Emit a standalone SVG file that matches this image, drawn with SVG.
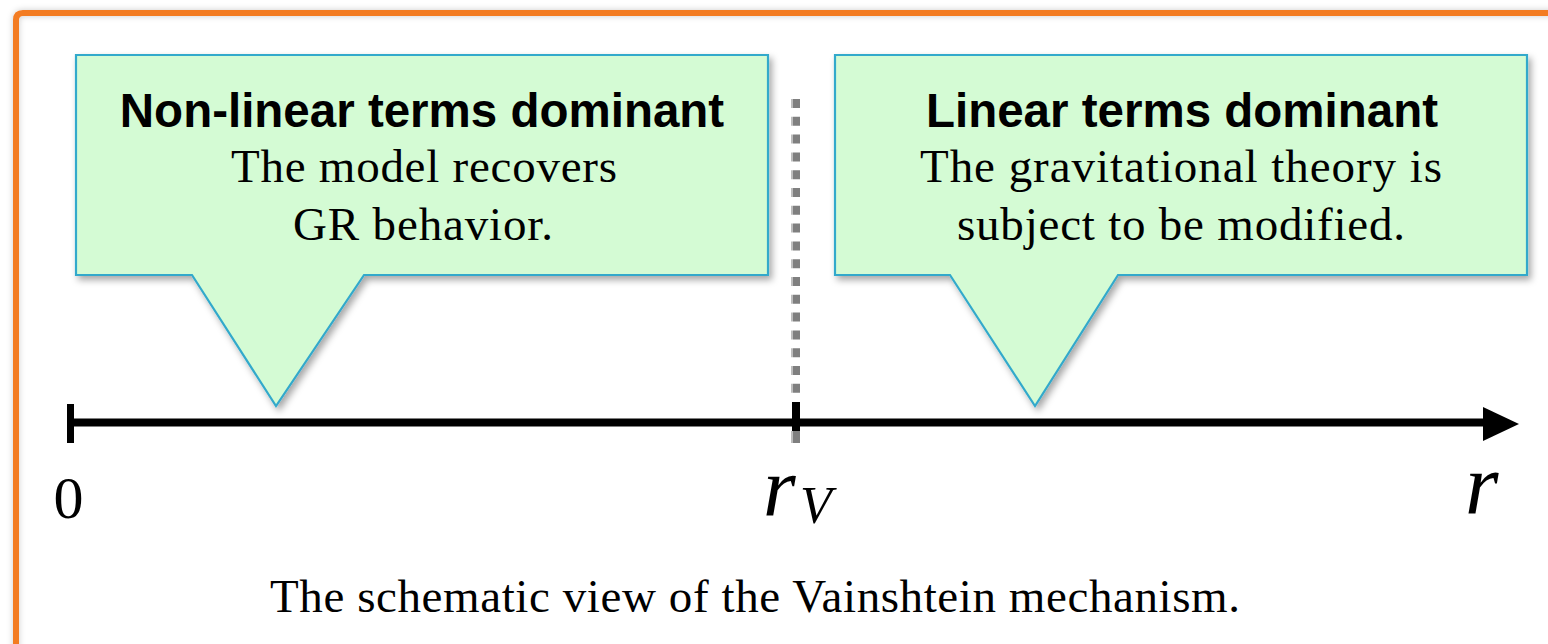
<svg xmlns="http://www.w3.org/2000/svg" width="1548" height="644" viewBox="0 0 1548 644">
  <defs>
    <filter id="shadow" x="-10%" y="-10%" width="130%" height="130%">
      <feDropShadow dx="3" dy="4" stdDeviation="3.5" flood-color="#000" flood-opacity="0.35"/>
    </filter>
    <filter id="softshadow" x="-50%" y="-5%" width="200%" height="110%">
      <feDropShadow dx="0" dy="0" stdDeviation="3" flood-color="#000" flood-opacity="0.2"/>
    </filter>
  </defs>
  <style>
    .callout { fill: #D4FBD4; stroke: #33A9CB; stroke-width: 2.2; filter: url(#shadow); }
    .title { font-family: "Liberation Sans", Arial, sans-serif; font-weight: bold; font-size: 47.5px; fill: #000; text-anchor: middle; }
    .desc { font-family: "Liberation Serif", "Times New Roman", serif; font-size: 47px; fill: #000; text-anchor: middle; }
    .math { font-family: "Liberation Serif", "Times New Roman", serif; fill: #000; }
  </style>
  <rect x="0" y="0" width="1548" height="644" fill="#ffffff"/>
  <g id="frame">
    <path d="M16,650 V20 Q16,13 23,13 H1560" fill="none" stroke="#F37B20" stroke-width="6" filter="url(#softshadow)"/>
  </g>
  <g id="callout-nonlinear">
    <path class="callout" d="M76,55 H768 V275 H364 L276,406 L192,275 H76 Z"/>
    <text class="title" x="422" y="127">Non-linear terms dominant</text>
    <text class="desc" x="424" y="182" textLength="386" lengthAdjust="spacing">The model recovers</text>
    <text class="desc" x="423" y="240" textLength="260" lengthAdjust="spacing">GR behavior.</text>
  </g>
  <g id="callout-linear">
    <path class="callout" d="M835,55 H1527 V275 H1118 L1035,406 L950,275 H835 Z"/>
    <text class="title" x="1182" y="127">Linear terms dominant</text>
    <text class="desc" x="1181" y="182" textLength="522" lengthAdjust="spacing">The gravitational theory is</text>
    <text class="desc" x="1181" y="240" textLength="448" lengthAdjust="spacing">subject to be modified.</text>
  </g>
  <g id="connectors">
    <g id="vainshtein-line">
      <line x1="792" y1="99" x2="792" y2="400" stroke="#BDBDBD" stroke-width="2" stroke-dasharray="9 8.8"/>
      <line x1="796.5" y1="99" x2="796.5" y2="400" stroke="#7F7F7F" stroke-width="7" stroke-dasharray="9 8.8"/>
    </g>
    <g id="axis">
      <line x1="74" y1="422.5" x2="1486" y2="422.5" stroke="#000" stroke-width="8"/>
      <polygon points="1483,407 1519,424 1483,441" fill="#000"/>
      <rect x="67" y="404" width="7" height="39" fill="#000"/>
      <rect x="792" y="402" width="8" height="29" fill="#000"/>
      <rect x="791" y="431" width="2" height="12" fill="#BDBDBD"/>
      <rect x="793" y="431" width="7" height="12" fill="#7F7F7F"/>
    </g>
  </g>
  <g id="labels">
    <text class="math" x="68.5" y="518" font-size="60" text-anchor="middle">0</text>
    <text class="math" x="763" y="516" font-size="84" font-style="italic">r</text>
    <text class="math" x="800" y="523" font-size="52" font-style="italic">V</text>
    <text class="math" x="1465" y="514" font-size="86" font-style="italic">r</text>
  </g>
  <g id="caption">
    <text class="desc" x="755" y="612" textLength="970" lengthAdjust="spacing">The schematic view of the Vainshtein mechanism.</text>
  </g>
</svg>
